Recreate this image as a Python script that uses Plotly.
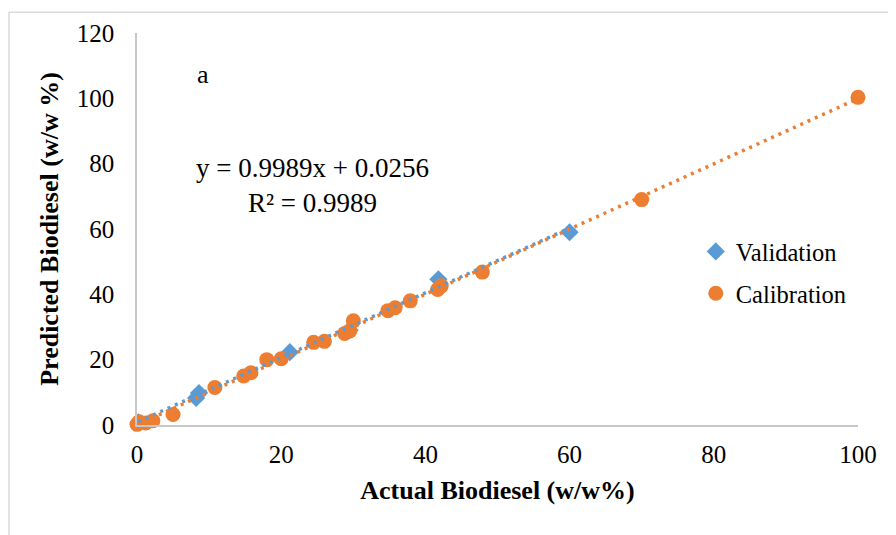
import numpy as np
import plotly.graph_objects as go

# Data
cal_x = [0.0, 0.3, 1.2, 2.2, 5.0, 10.8, 14.8, 15.8, 18.0, 20.0, 24.5, 26.0,
         28.8, 29.5, 30.0, 34.8, 35.8, 37.9, 41.7, 42.2, 47.9, 70.0, 100.0]
cal_y = [0.2, 1.0, 0.6, 1.3, 3.2, 11.5, 15.0, 16.0, 20.0, 20.3, 25.3, 25.6,
         28.0, 28.8, 31.9, 35.0, 35.9, 38.0, 41.5, 42.6, 46.8, 69.0, 100.3]
val_x = [0.2, 8.2, 8.6, 21.2, 29.5, 41.8, 60.0]
val_y = [0.8, 8.3, 9.8, 22.3, 29.0, 44.6, 59.0]

x_ticks = [0, 20, 40, 60, 80, 100]
y_ticks = [0, 20, 40, 60, 80, 100, 120]

equation_text = "y = 0.9989x + 0.0256<br>R² = 0.9989"
panel_label = "a"

ORANGE = "#ED7D31"
BLUE = "#5B9BD5"
FONT = "Liberation Serif"

# trendlines (least-squares fits of each series)
cm, cb = np.polyfit(cal_x, cal_y, 1)
vm, vb = np.polyfit(val_x, val_y, 1)
cal_tx = np.array([min(cal_x), max(cal_x)])
val_tx = np.array([min(val_x), max(val_x)])

fig = go.Figure()
fig.add_trace(go.Scatter(x=val_x, y=val_y, mode="markers", name="Validation",
                         legendgroup="v",
                         marker=dict(symbol="diamond", size=14, color=BLUE),
                         cliponaxis=False))
fig.add_trace(go.Scatter(x=cal_x, y=cal_y, mode="markers", name="Calibration",
                         legendgroup="c",
                         marker=dict(symbol="circle", size=15, color=ORANGE),
                         cliponaxis=False))
fig.add_trace(go.Scatter(x=val_tx, y=vm * val_tx + vb, mode="lines",
                         showlegend=False, hoverinfo="skip",
                         line=dict(color=BLUE, width=3.5, dash="3px,5px")))
fig.add_trace(go.Scatter(x=cal_tx, y=cm * cal_tx + cb, mode="lines",
                         showlegend=False, hoverinfo="skip",
                         line=dict(color=ORANGE, width=3.5, dash="3px,5px")))

fig.add_annotation(x=24.4, y=73.3, xref="x", yref="y", text=equation_text,
                   showarrow=False, align="center",
                   font=dict(family=FONT, size=27, color="black"))
fig.add_annotation(x=9.2, y=107.3, xref="x", yref="y", text=panel_label,
                   showarrow=False, font=dict(family=FONT, size=26, color="black"))

# outer chart border
fig.add_shape(type="rect", xref="paper", yref="paper",
              x0=-0.1775, x1=1.2, y0=-0.4, y1=1.053,
              line=dict(color="#d9d9d9", width=1.5), layer="below")

fig.update_layout(
    width=896, height=535,
    margin=dict(l=129, r=46, t=22, b=118),
    plot_bgcolor="white", paper_bgcolor="white",
    font=dict(family=FONT, size=25, color="black"),
    legend=dict(x=0.775, y=0.50, xanchor="left", yanchor="top",
                font=dict(family=FONT, size=24.5, color="black"),
                bgcolor="rgba(0,0,0,0)", traceorder="grouped",
                tracegroupgap=7, itemwidth=30),
    xaxis=dict(range=[0, 100], tickvals=x_ticks, showgrid=False, zeroline=False,
               showline=True, linecolor="#c8c8c8", linewidth=1.5,
               ticks="", ticklabelstandoff=6,
               tickfont=dict(family=FONT, size=25, color="black"),
               title=dict(text="<b>Actual Biodiesel (w/w%)</b>", standoff=14,
                          font=dict(family=FONT, size=26, color="black"))),
    yaxis=dict(range=[0, 120], tickvals=y_ticks, showgrid=False, zeroline=False,
               showline=True, linecolor="#c8c8c8", linewidth=1.5,
               ticks="", ticklabelstandoff=16,
               tickfont=dict(family=FONT, size=25, color="black"),
               title=dict(text="<b>Predicted Biodiesel (w/w %)</b>", standoff=11,
                          font=dict(family=FONT, size=26, color="black"))),
)

fig.write_html("out.html")
